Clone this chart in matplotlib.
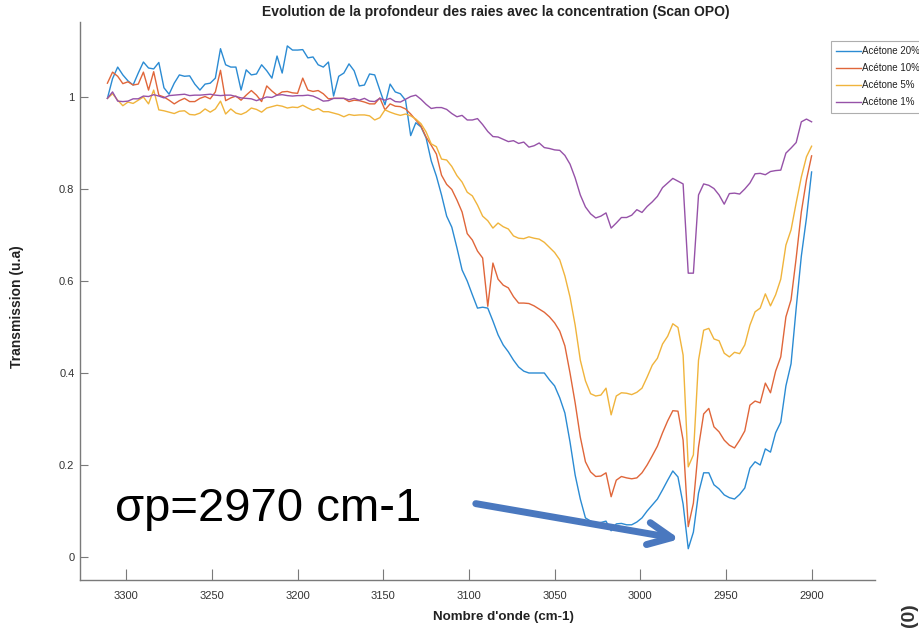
import numpy as np
import matplotlib
matplotlib.use("Agg")
import matplotlib.pyplot as plt

# wavenumber grid of the OPO scan (cm-1), high to low
nombre_onde = np.arange(3311, 2899, -3)

acetone_20 = [
    0.997, 1.040, 1.065, 1.048, 1.035, 1.026, 1.052, 1.076, 1.063, 1.061,
    1.075, 1.020, 1.006, 1.030, 1.048, 1.045, 1.046, 1.028, 1.015, 1.028,
    1.030, 1.041, 1.105, 1.070, 1.065, 1.065, 1.015, 1.059, 1.048, 1.050,
    1.070, 1.057, 1.041, 1.089, 1.052, 1.111, 1.102, 1.102, 1.103, 1.085,
    1.087, 1.070, 1.065, 1.076, 1.002, 1.045, 1.052, 1.072, 1.057, 1.024,
    1.026, 1.050, 1.048, 1.015, 0.983, 1.028, 1.011, 1.007, 0.993, 0.916,
    0.944, 0.935, 0.911, 0.861, 0.828, 0.787, 0.741, 0.717, 0.672, 0.624,
    0.600, 0.570, 0.541, 0.543, 0.541, 0.513, 0.483, 0.461, 0.446, 0.428,
    0.413, 0.404, 0.400, 0.400, 0.400, 0.400, 0.385, 0.372, 0.346, 0.313,
    0.250, 0.178, 0.126, 0.085, 0.078, 0.073, 0.075, 0.078, 0.057, 0.072,
    0.073, 0.070, 0.070, 0.076, 0.085, 0.100, 0.113, 0.126, 0.146, 0.167,
    0.187, 0.174, 0.115, 0.018, 0.054, 0.139, 0.183, 0.183, 0.157, 0.148,
    0.135, 0.129, 0.126, 0.136, 0.150, 0.193, 0.207, 0.200, 0.235, 0.228,
    0.270, 0.293, 0.372, 0.420, 0.541, 0.654, 0.737, 0.837,
]

acetone_10 = [
    1.030, 1.054, 1.045, 1.029, 1.033, 1.026, 1.028, 1.054, 1.015, 1.055,
    1.004, 1.000, 0.993, 0.985, 0.992, 0.997, 0.990, 0.990, 0.997, 1.001,
    0.996, 1.011, 1.058, 0.992, 0.998, 1.002, 0.993, 1.004, 1.014, 1.004,
    0.990, 1.024, 1.013, 1.004, 1.011, 1.012, 1.009, 1.008, 1.041, 1.015,
    1.012, 1.014, 1.007, 0.996, 0.997, 0.997, 0.997, 0.990, 0.993, 0.992,
    0.989, 0.985, 0.985, 0.998, 0.972, 0.985, 0.980, 0.979, 0.974, 0.963,
    0.950, 0.937, 0.913, 0.895, 0.876, 0.830, 0.810, 0.799, 0.776, 0.750,
    0.703, 0.689, 0.665, 0.650, 0.545, 0.639, 0.604, 0.591, 0.585, 0.566,
    0.552, 0.552, 0.551, 0.546, 0.539, 0.532, 0.522, 0.509, 0.491, 0.459,
    0.400, 0.335, 0.261, 0.207, 0.185, 0.175, 0.176, 0.183, 0.131, 0.167,
    0.175, 0.172, 0.170, 0.172, 0.183, 0.200, 0.220, 0.241, 0.270, 0.296,
    0.318, 0.317, 0.254, 0.066, 0.117, 0.239, 0.311, 0.323, 0.283, 0.272,
    0.254, 0.243, 0.237, 0.254, 0.274, 0.330, 0.339, 0.335, 0.378, 0.357,
    0.404, 0.435, 0.522, 0.559, 0.650, 0.750, 0.820, 0.872,
]

acetone_5 = [
    0.997, 1.007, 0.993, 0.981, 0.989, 0.986, 0.993, 1.000, 0.985, 1.015,
    0.972, 0.970, 0.967, 0.964, 0.969, 0.970, 0.962, 0.961, 0.965, 0.974,
    0.967, 0.974, 0.991, 0.963, 0.974, 0.965, 0.962, 0.967, 0.976, 0.973,
    0.967, 0.976, 0.979, 0.982, 0.980, 0.976, 0.978, 0.977, 0.982, 0.976,
    0.971, 0.975, 0.968, 0.968, 0.965, 0.962, 0.957, 0.962, 0.960, 0.961,
    0.961, 0.959, 0.950, 0.955, 0.972, 0.967, 0.963, 0.960, 0.963, 0.959,
    0.952, 0.942, 0.924, 0.898, 0.892, 0.865, 0.863, 0.849, 0.829, 0.815,
    0.793, 0.785, 0.765, 0.741, 0.731, 0.715, 0.726, 0.718, 0.713, 0.698,
    0.693, 0.692, 0.696, 0.693, 0.691, 0.684, 0.673, 0.662, 0.646, 0.611,
    0.565, 0.504, 0.428, 0.383, 0.355, 0.350, 0.352, 0.367, 0.309, 0.350,
    0.357, 0.356, 0.353, 0.358, 0.367, 0.391, 0.417, 0.432, 0.463, 0.480,
    0.507, 0.499, 0.439, 0.196, 0.222, 0.428, 0.493, 0.497, 0.474, 0.470,
    0.443, 0.435, 0.445, 0.442, 0.461, 0.504, 0.533, 0.541, 0.572, 0.546,
    0.570, 0.604, 0.678, 0.711, 0.770, 0.826, 0.870, 0.893,
]

acetone_1 = [
    0.997, 1.011, 0.991, 0.990, 0.991, 0.996, 0.996, 1.002, 1.001, 1.005,
    1.002, 0.998, 1.003, 1.004, 1.005, 1.006, 1.003, 1.004, 1.004, 1.005,
    1.006, 1.004, 1.003, 1.004, 1.004, 1.001, 0.998, 0.997, 0.996, 0.992,
    0.996, 1.000, 0.999, 1.004, 1.005, 1.003, 1.002, 1.003, 1.003, 1.004,
    1.002, 0.997, 0.991, 0.992, 0.997, 0.997, 0.997, 0.994, 0.997, 0.993,
    0.997, 0.991, 0.990, 0.997, 0.993, 0.997, 0.990, 0.989, 0.995, 1.001,
    1.004, 0.995, 0.984, 0.975, 0.977, 0.977, 0.973, 0.964, 0.957, 0.960,
    0.950, 0.950, 0.953, 0.940, 0.925, 0.914, 0.913, 0.908, 0.903, 0.905,
    0.899, 0.902, 0.891, 0.894, 0.900, 0.890, 0.888, 0.885, 0.884, 0.873,
    0.854, 0.824, 0.787, 0.761, 0.746, 0.737, 0.741, 0.748, 0.715, 0.726,
    0.738, 0.738, 0.743, 0.755, 0.749, 0.762, 0.772, 0.784, 0.803, 0.813,
    0.823, 0.817, 0.811, 0.617, 0.617, 0.787, 0.811, 0.808, 0.801, 0.787,
    0.767, 0.790, 0.791, 0.789, 0.800, 0.813, 0.833, 0.834, 0.831, 0.838,
    0.840, 0.841, 0.878, 0.889, 0.901, 0.946, 0.952, 0.946,
]

series = [
    ("Acétone 20%", acetone_20, "#2b8bd3"),
    ("Acétone 10%", acetone_10, "#e0663a"),
    ("Acétone 5%", acetone_5, "#f0b43c"),
    ("Acétone 1%", acetone_1, "#9652a8"),
]

x_ticks = [3300, 3250, 3200, 3150, 3100, 3050, 3000, 2950, 2900]
y_ticks = [0, 0.2, 0.4, 0.6, 0.8, 1]
y_labels = ["0", "0.2", "0.4", "0.6", "0.8", "1"]

pic_raie = 2972.0

plt.rcParams["font.family"] = ["Liberation Sans", "DejaVu Sans"]

W, H = 920, 629
fig = plt.figure(figsize=(W / 100, H / 100), dpi=100)
ax = fig.add_axes([80 / W, 1 - 580 / H, 795 / W, 558 / H])

for label, vals, col in series:
    ax.plot(nombre_onde, vals, color=col, lw=1.0, label=label)

ax.set_xlim(3327, 2863)
ax.set_ylim(-0.05, 1.163)
ax.set_xticks(x_ticks)
ax.set_xticklabels([str(t) for t in x_ticks])
ax.set_yticks(y_ticks)
ax.set_yticklabels(y_labels)

grey = "#7a7a7a"
for side in ("top", "right"):
    ax.spines[side].set_visible(False)
for side in ("left", "bottom"):
    ax.spines[side].set_color(grey)
    ax.spines[side].set_linewidth(1.0)
ax.tick_params(axis="x", direction="in", length=8, width=0.8, color=grey,
               labelsize=8, labelcolor="#333333", pad=8)
ax.tick_params(axis="y", direction="in", length=6, width=0.8, color=grey,
               labelsize=8, labelcolor="#333333", pad=4)

fig.text(496 / W, 1 - 12 / H, "Evolution de la profondeur des raies avec la concentration (Scan OPO)",
         ha="center", va="center", fontsize=10, fontweight="bold", color="#222222")
fig.text(503 / W, 1 - 617 / H, "Nombre d'onde (cm-1)", ha="center", va="center",
         fontsize=9.6, fontweight="bold", color="#222222")
fig.text(17 / W, 1 - 307 / H, "Transmission (u.a)", ha="center", va="center", rotation=90,
         fontsize=10, fontweight="bold", color="#222222")

leg = ax.legend(loc="upper left", bbox_to_anchor=(831 / W, 1 - 41 / H),
                bbox_transform=fig.transFigure, fontsize=7, frameon=True, fancybox=False,
                handlelength=2.5, handletextpad=0.15, labelspacing=0.72,
                borderpad=0.55, borderaxespad=0)
leg.get_frame().set_edgecolor("#9a9a9a")
leg.get_frame().set_linewidth(0.8)
for t in leg.get_texts():
    t.set_color("#222222")

# annotation pointing at the deepest line of the 20% spectrum
ax.annotate("", xy=(2977, 0.039), xytext=(3096, 0.116),
            arrowprops=dict(arrowstyle="->,head_length=0.85,head_width=0.4", lw=5,
                            color="#4a78bf", shrinkA=0, shrinkB=0, mutation_scale=20))
fig.text(115 / W, 1 - 509 / H, "σp=%d cm-1" % round(pic_raie, -1), ha="left", va="center",
         fontsize=34, color="black")

fig.text(910 / W, 1 - 615 / H, "(0)", ha="center", va="center", rotation=90,
         fontsize=14, fontweight="bold", color="#333333")

fig.savefig("out.png", dpi=100)
